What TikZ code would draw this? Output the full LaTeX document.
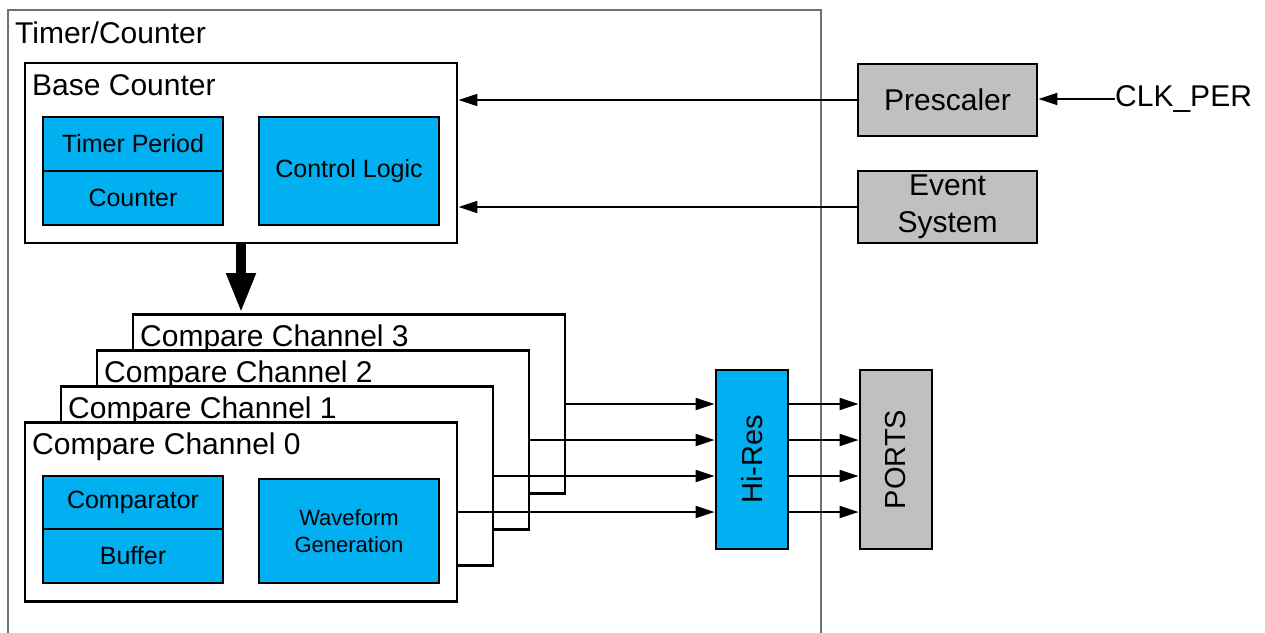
\documentclass[tikz,border=0pt]{standalone}
\usepackage{fontspec}
\usepackage{graphicx}
\setmainfont{Liberation Sans}
\usetikzlibrary{arrows.meta}
\definecolor{hiblue}{HTML}{00B0F0}
\definecolor{blockgrey}{HTML}{C0C0C0}
\definecolor{framegrey}{HTML}{707070}
\newcommand{\titlefont}{\fontsize{30pt}{36pt}\selectfont}
\newcommand{\innerfont}{\fontsize{25pt}{30pt}\selectfont}
\newcommand{\smallfont}{\fontsize{22pt}{27pt}\selectfont}
\begin{document}
\begin{tikzpicture}[x=1pt,y=-1pt,
  framebox/.style={draw=framegrey, line width=1.4pt},
  unitbox/.style={draw=black, line width=2.8pt, fill=white, inner sep=0pt,
                  minimum width=432pt, minimum height=179pt},
  bluebox/.style={draw=black, line width=2.8pt, fill=hiblue, inner sep=0pt,
                  font=\innerfont, align=center},
  greybox/.style={draw=black, line width=2.8pt, fill=blockgrey, inner sep=0pt,
                  font=\titlefont, align=center},
  title/.style={anchor=base west, inner sep=0pt, font=\titlefont},
  arr/.style={line width=1.8pt, -{Triangle[length=19pt,width=12pt]}},
  bigarr/.style={line width=10pt, -{Triangle[length=40pt,width=27pt]}}]

\useasboundingbox (0,0) rectangle (1265,632);

% Timer/Counter frame, open towards the bottom
\draw[framebox] (8,640) -- (8,10) -- (821,10) -- (821,640);
\node[title] (tctitle) at (15,43) {Timer/Counter};

% Base counter
\node[unitbox, minimum height=180pt] (base) at (241,153) {};
\node[title] (basetitle) at (32,95) {Base Counter};
\node[bluebox, minimum width=180pt, minimum height=54pt] (period) at (133,144) {Timer Period};
\node[bluebox, minimum width=180pt, minimum height=54pt] (counter) at (133,198) {Counter};
\node[bluebox, minimum width=180pt, minimum height=108pt] (ctrl) at (349,171) {Control Logic};

% Prescaler and event system
\node[greybox, minimum width=179pt, minimum height=72pt] (pre) at (947.5,100) {Prescaler};
\node[greybox, minimum width=179pt, minimum height=72pt, font=\fontsize{30pt}{37pt}\selectfont] (evsys) at (947.5,207) {\raisebox{-2pt}{\parbox{170pt}{\centering Event\\System}}};
\node[anchor=west, inner sep=0pt, font=\titlefont] (clk) at (1115,99) {CLK\_PER};

\draw[arr] (clk.west) -- (clk.west -| pre.east);
\draw[arr] (pre.west) -- (pre.west -| base.east);
\draw[arr] (evsys.west) -- (evsys.west -| base.east);

% Compare channels, stacked back to front
\node[unitbox] (cc3) at (349,404) {};
\node[title] (cc3title) at (140,346) {Compare Channel 3};
\node[unitbox] (cc2) at (313,440) {};
\node[title] (cc2title) at (104,382) {Compare Channel 2};
\node[unitbox] (cc1) at (277,476) {};
\node[title] (cc1title) at (68,418) {Compare Channel 1};
\node[unitbox] (cc0) at (241,512) {};
\node[title] (cc0title) at (32,454) {Compare Channel 0};

\node[bluebox, minimum width=180pt, minimum height=53pt] (cmp) at (133,502.5) {Comparator};
\node[bluebox, minimum width=180pt, minimum height=54pt] (buf) at (133,556) {Buffer};
\node[bluebox, minimum width=180pt, minimum height=104pt, font=\smallfont] (wave) at (349,531) {Waveform\\Generation};

% Base counter feeds the compare channels
\draw[bigarr] (base.south) -- (base.south |- cc3.north);

% Hi-Res stage and ports
\node[bluebox, minimum width=72pt, minimum height=179pt, font=\fontsize{29pt}{34pt}\selectfont] (hires) at (752,459.5) {\rotatebox{90}{Hi-Res}};
\node[greybox, minimum width=72pt, minimum height=179pt, font=\fontsize{29pt}{34pt}\selectfont] (ports) at (896,459.5) {\rotatebox{90}{PORTS}};

\foreach \c in {cc0,cc1,cc2,cc3}{
  \draw[arr] (\c.east) -- (\c.east -| hires.west);
  \draw[arr] (hires.east |- \c.east) -- (ports.west |- \c.east);
}
\end{tikzpicture}
\end{document}
